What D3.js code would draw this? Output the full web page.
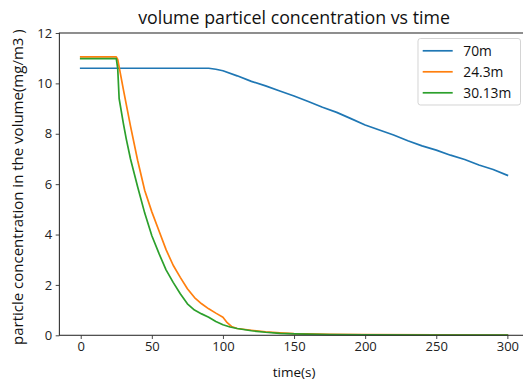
<!DOCTYPE html>
<html>
<head>
<meta charset="utf-8">
<script src="https://cdn.jsdelivr.net/npm/d3@7"></script>
<style>
  body { margin: 0; background: #fff; }
  svg { display: block; font-family: "Open Sans", sans-serif; }
</style>
</head>
<body>
<div id="chart"></div>
<script>
// series (time in s, concentration in mg/m3)
const seriesNames = ["70m", "24.3m", "30.13m"];
const seriesColors = ["#1f77b4", "#ff7f0e", "#2ca02c"];

const t70 = [0, 90, 95, 100, 110, 120, 130, 140, 150, 160, 170, 180, 190, 200, 210, 220, 230, 240, 250, 260, 270, 280, 290, 300];
const v70 = [10.6, 10.6, 10.56, 10.5, 10.3, 10.08, 9.9, 9.7, 9.5, 9.28, 9.05, 8.85, 8.6, 8.35, 8.15, 7.95, 7.72, 7.52, 7.35, 7.15, 6.98, 6.76, 6.58, 6.35];

const t243 = [0, 25, 26, 30, 35, 40, 45, 50, 55, 60, 65, 70, 75, 80, 85, 90, 95, 100, 103, 106, 110, 120, 130, 140, 150, 175, 200, 250, 300];
const v243 = [11.05, 11.05, 10.95, 9.75, 8.3, 6.95, 5.75, 4.9, 4.15, 3.4, 2.78, 2.3, 1.85, 1.5, 1.25, 1.05, 0.88, 0.72, 0.5, 0.35, 0.27, 0.2, 0.14, 0.1, 0.07, 0.04, 0.03, 0.02, 0.01];

const t3013 = [0, 25, 26, 27, 30, 32, 35, 40, 45, 50, 55, 60, 65, 70, 75, 80, 85, 90, 95, 100, 105, 110, 120, 130, 140, 150, 175, 200, 250, 300];
const v3013 = [10.98, 10.98, 10.6, 9.4, 8.4, 7.8, 7.0, 5.9, 4.85, 3.95, 3.25, 2.6, 2.1, 1.65, 1.25, 1.0, 0.85, 0.72, 0.55, 0.42, 0.33, 0.27, 0.18, 0.12, 0.08, 0.06, 0.03, 0.02, 0.01, 0.01];

const xTicks = [0, 50, 100, 150, 200, 250, 300];
const yTicks = [0, 2, 4, 6, 8, 10, 12];

const width = 523, height = 381;
const plot = { left: 59.4, right: 528.7, top: 33, bottom: 335.3 };

const svg = d3.select("#chart").append("svg")
  .attr("width", width)
  .attr("height", height);

const x = d3.scaleLinear().domain([-15, 315]).range([plot.left, plot.right]);
const y = d3.scaleLinear().domain([0, 12]).range([plot.bottom, plot.top]);

const series = [
  { name: seriesNames[0], color: seriesColors[0], t: t70, v: v70 },
  { name: seriesNames[1], color: seriesColors[1], t: t243, v: v243 },
  { name: seriesNames[2], color: seriesColors[2], t: t3013, v: v3013 }
];

const line = d3.line().x(d => x(d[0])).y(d => y(d[1]));

svg.append("g").selectAll("path")
  .data(series)
  .enter().append("path")
    .attr("d", s => line(s.t.map((t, i) => [t, s.v[i]])))
    .attr("fill", "none")
    .attr("stroke", s => s.color)
    .attr("stroke-width", 1.7)
    .attr("stroke-linejoin", "round")
    .attr("stroke-linecap", "square");

// axes
const xAxis = svg.append("g")
  .attr("transform", `translate(0,${plot.bottom})`)
  .call(d3.axisBottom(x).tickValues(xTicks).tickSizeInner(3.7).tickSizeOuter(0).tickPadding(3));
const yAxis = svg.append("g")
  .attr("transform", `translate(${plot.left},0)`)
  .call(d3.axisLeft(y).tickValues(yTicks).tickSizeInner(3.7).tickSizeOuter(0).tickPadding(3.5));

[xAxis, yAxis].forEach(g => {
  g.selectAll("text").attr("font-size", 13).attr("fill", "#222").attr("font-family", "Open Sans");
  g.selectAll("line").attr("stroke", "#333").attr("stroke-width", 0.9);
  g.select(".domain").remove();
});

// spines
svg.append("rect")
  .attr("x", plot.left).attr("y", plot.top)
  .attr("width", plot.right - plot.left).attr("height", plot.bottom - plot.top)
  .attr("fill", "none").attr("stroke", "#333").attr("stroke-width", 1.1);

// title and labels
svg.append("text")
  .attr("x", (plot.left + plot.right) / 2).attr("y", 24)
  .attr("text-anchor", "middle").attr("font-size", 17.8).attr("fill", "#111")
  .text("volume particel concentration vs time");

svg.append("text")
  .attr("x", (plot.left + plot.right) / 2).attr("y", 377)
  .attr("text-anchor", "middle").attr("font-size", 13.5).attr("fill", "#111")
  .text("time(s)");

svg.append("text")
  .attr("transform", `translate(23,${(plot.top + plot.bottom) / 2 + 3}) rotate(-90)`)
  .attr("text-anchor", "middle").attr("font-size", 15).attr("fill", "#111")
  .text("particle concentration in the volume(mg/m3 )");

// legend
const legend = svg.append("g").attr("transform", "translate(418,38.5)");
legend.append("rect")
  .attr("width", 102.5).attr("height", 66.5).attr("rx", 2.5)
  .attr("fill", "#fff").attr("fill-opacity", 0.8)
  .attr("stroke", "#ccc").attr("stroke-width", 0.85);

const items = legend.selectAll("g.item")
  .data(series)
  .enter().append("g")
    .attr("class", "item")
    .attr("transform", (d, i) => `translate(0,${12.3 + i * 21})`);
items.append("line")
  .attr("x1", 4.7).attr("x2", 34.7)
  .attr("stroke", d => d.color).attr("stroke-width", 1.7);
items.append("text")
  .attr("x", 45.3).attr("y", 4.8)
  .attr("font-size", 13.8).attr("fill", "#111")
  .text(d => d.name);
</script>
</body>
</html>
